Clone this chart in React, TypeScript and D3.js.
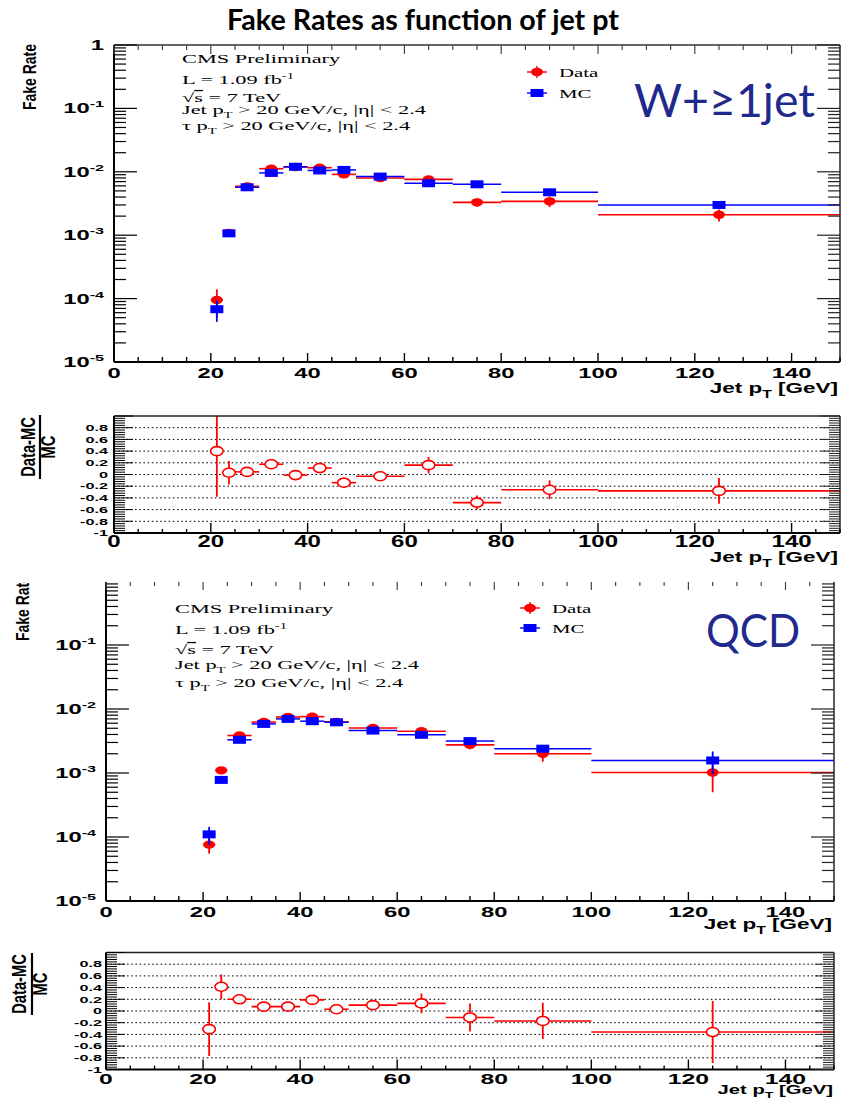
import React from 'react';
import * as d3 from 'd3';

// ---------------- data ----------------
const binLow = [20, 22.5, 25, 30, 35, 40, 45, 50, 60, 70, 80, 100];
const binHigh = [22.5, 25, 30, 35, 40, 45, 50, 60, 70, 80, 100, 150];
const ptCenter = [21.25, 23.75, 27.5, 32.5, 37.5, 42.5, 47.5, 55, 65, 75, 90, 125];

// W + >=1 jet
const wjetData = [9.5e-5, 1.09e-3, 5.9e-3, 1.12e-2, 1.19e-2, 1.16e-2, 9.1e-3, 8.0e-3, 7.6e-3, 3.3e-3, 3.42e-3, 2.1e-3];
const wjetDataErr = [4.5e-5, 1.2e-4, 2.5e-4, 4e-4, 4e-4, 4e-4, 4e-4, 3e-4, 8e-4, 5e-4, 6.5e-4, 4.5e-4];
const wjetMC = [6.8e-5, 1.07e-3, 5.7e-3, 9.6e-3, 1.2e-2, 1.05e-2, 1.07e-2, 8.4e-3, 6.6e-3, 6.35e-3, 4.75e-3, 3.0e-3];
const wjetMCErr = [2.5e-5, 6e-5, 1.5e-4, 2e-4, 2e-4, 2e-4, 2e-4, 1.5e-4, 1.5e-4, 1.5e-4, 1e-4, 1e-4];
const wjetRatio = [0.40, 0.03, 0.045, 0.175, -0.01, 0.11, -0.14, -0.03, 0.16, -0.48, -0.26, -0.28];
const wjetRatioErr = [0.78, 0.2, 0.07, 0.06, 0.06, 0.09, 0.09, 0.07, 0.14, 0.12, 0.16, 0.22];

// QCD
const qcdData = [7.6e-5, 1.1e-3, 3.85e-3, 6.25e-3, 7.5e-3, 7.6e-3, 6.3e-3, 5.05e-3, 4.5e-3, 2.75e-3, 2.0e-3, 1.02e-3];
const qcdDataErr = [2.1e-5, 8e-5, 1.5e-4, 2e-4, 2e-4, 2.5e-4, 2.5e-4, 2.5e-4, 4e-4, 4e-4, 5e-4, 5.2e-4];
const qcdMC = [1.1e-4, 7.8e-4, 3.3e-3, 5.85e-3, 7.0e-3, 6.45e-3, 6.2e-3, 4.6e-3, 3.95e-3, 3.15e-3, 2.4e-3, 1.57e-3];
const qcdMCErr = [3.4e-5, 8e-5, 1.5e-4, 2e-4, 2e-4, 2e-4, 2e-4, 1.5e-4, 2e-4, 2.5e-4, 3e-4, 6e-4];
const qcdRatio = [-0.31, 0.415, 0.2, 0.075, 0.075, 0.19, 0.03, 0.1, 0.13, -0.11, -0.17, -0.36];
const qcdRatioErr = [0.46, 0.21, 0.04, 0.03, 0.03, 0.05, 0.05, 0.06, 0.17, 0.24, 0.31, 0.53];

// ticks / labels
const xTickLabels = [0, 20, 40, 60, 80, 100, 120, 140];
const logLabelExps = [0, -1, -2, -3, -4, -5];
const ratioTickLabels = [0.8, 0.6, 0.4, 0.2, 0, -0.2, -0.4, -0.6, -0.8, -1];
const ratioGrid = [0.8, 0.6, 0.4, 0.2, 0, -0.2, -0.4, -0.6, -0.8];

const chartTitle = 'Fake Rates as function of jet pt';
const infoLines = ['CMS Preliminary', 'L = 1.09 fb', '= 7 TeV', 'Jet p', 'τ p'];

// ---------------- style ----------------
const RED = '#ff0000';
const BLUE = '#0000ff';
const NAVY = '#1f2a8c';
const SANS = "'Liberation Sans', Arial, Helvetica, sans-serif";
const SERIF = "'Liberation Serif', 'Times New Roman', serif";
const SLIDE = "Lato, 'Open Sans', sans-serif";

function SText({ x, y, sx = 1, sy = 1, rotate = 0, anchor = 'start', size, family = SANS, weight = 'bold', fill = '#000', dy, children, textLength }: any) {
  return (
    <text
      transform={`translate(${x},${y}) rotate(${rotate}) scale(${sx},${sy})`}
      textAnchor={anchor}
      fontSize={size}
      fontFamily={family}
      fontWeight={weight}
      fill={fill}
      dy={dy}
      textLength={textLength}
      lengthAdjust={textLength ? 'spacingAndGlyphs' : undefined}
    >
      {children}
    </text>
  );
}

function XTitle({ x, y, size = 15, sx = 1.5 }: any) {
  return (
    <SText x={x} y={y} sx={sx} size={size} anchor="end">
      Jet p<tspan fontSize={size * 0.7} dy={size * 0.3}>T</tspan>
      <tspan dy={-size * 0.3}> [GeV]</tspan>
    </SText>
  );
}

function MainPanel({ id, left, right, top, bottom, data, dataErr, mc, mcErr, labelRight, xLabelY, showTopLabel }: any) {
  const x = d3.scaleLinear().domain([0, 150]).range([left, right]);
  const y = d3.scaleLog().domain([1e-5, 1]).range([bottom, top]);
  const yTicks = y.ticks();
  const xTicks = x.ticks(30);
  const isMajor = (v: number) => Math.abs(Math.log10(v) - Math.round(Math.log10(v))) < 1e-6;
  const lo = (v: number, e: number) => Math.max(v - e, 1e-7);
  return (
    <g>
      <defs>
        <clipPath id={id}>
          <rect x={left} y={top} width={right - left} height={bottom - top} />
        </clipPath>
      </defs>
      <g clipPath={`url(#${id})`}>
        {ptCenter.map((c, i) => (
          <g key={'d' + i}>
            <line x1={x(binLow[i])} x2={x(binHigh[i])} y1={y(data[i])} y2={y(data[i])} stroke={RED} strokeWidth={1.6} />
            <line x1={x(c)} x2={x(c)} y1={y(data[i] + dataErr[i])} y2={y(lo(data[i], dataErr[i]))} stroke={RED} strokeWidth={1.8} />
            <ellipse cx={x(c)} cy={y(data[i])} rx={6} ry={4.2} fill={RED} />
          </g>
        ))}
        {ptCenter.map((c, i) => (
          <g key={'m' + i}>
            <line x1={x(binLow[i])} x2={x(binHigh[i])} y1={y(mc[i])} y2={y(mc[i])} stroke={BLUE} strokeWidth={1.5} />
            <line x1={x(c)} x2={x(c)} y1={y(mc[i] + mcErr[i])} y2={y(lo(mc[i], mcErr[i]))} stroke={BLUE} strokeWidth={1.8} />
            <rect x={x(c) - 6.5} y={y(mc[i]) - 4} width={13} height={8} fill={BLUE} />
          </g>
        ))}
      </g>
      {/* frame */}
      <line x1={left} x2={left} y1={top} y2={bottom} stroke="#000" strokeWidth={2} />
      <line x1={left} x2={right} y1={bottom} y2={bottom} stroke="#000" strokeWidth={2} />
      <line x1={right} x2={right} y1={top} y2={bottom} stroke="#333" strokeWidth={1.6} />
      <line x1={left} x2={right} y1={top} y2={top} stroke="#333" strokeWidth={1.6} />
      {yTicks.map((v, i) => {
        const L = isMajor(v) ? 23 : 12;
        return (
          <g key={'yt' + i}>
            <line x1={left} x2={left + L} y1={y(v)} y2={y(v)} stroke="#000" strokeWidth={1.2} />
            <line x1={right} x2={right - L} y1={y(v)} y2={y(v)} stroke="#222" strokeWidth={1.2} />
          </g>
        );
      })}
      {xTicks.map((v, i) => {
        const L = v % 20 === 0 ? 9 : 5;
        return (
          <g key={'xt' + i}>
            <line x1={x(v)} x2={x(v)} y1={bottom} y2={bottom - L} stroke="#000" strokeWidth={1.4} />
            <line x1={x(v)} x2={x(v)} y1={top} y2={top + L} stroke="#444" strokeWidth={1.2} />
          </g>
        );
      })}
      {logLabelExps.filter((e) => showTopLabel || e !== 0).map((e) => (
        <SText key={'yl' + e} x={labelRight} y={y(Math.pow(10, e)) + 5} sx={1.7} size={14} anchor="end">
          {e === 0 ? '1' : '10'}
          {e !== 0 && <tspan fontSize={9.5} dy={-6}>{String(e)}</tspan>}
        </SText>
      ))}
      {xTickLabels.map((v) => (
        <SText key={'xl' + v} x={x(v)} y={xLabelY} sx={1.7} size={14} anchor="middle">
          {String(v)}
        </SText>
      ))}
    </g>
  );
}

function RatioPanel({ id, left, right, top, bottom, ratio, ratioErr, labelRight, xLabelY, xLabelSize, xLabelSx }: any) {
  const x = d3.scaleLinear().domain([0, 150]).range([left, right]);
  const y = d3.scaleLinear().domain([-1, 1]).range([bottom, top]);
  const xTicks = x.ticks(30);
  const yMinor = d3.range(-1, 1.0001, 0.04);
  return (
    <g>
      <defs>
        <clipPath id={id}>
          <rect x={left} y={top} width={right - left} height={bottom - top} />
        </clipPath>
      </defs>
      {ratioGrid.map((v) => (
        <line key={'g' + v} x1={left} x2={right} y1={y(v)} y2={y(v)} stroke="#000" strokeWidth={1} strokeDasharray="1.6,2.6" />
      ))}
      <g clipPath={`url(#${id})`}>
        {ptCenter.map((c, i) => (
          <g key={'r' + i}>
            <line x1={x(binLow[i])} x2={x(binHigh[i])} y1={y(ratio[i])} y2={y(ratio[i])} stroke={RED} strokeWidth={1.6} />
            <line x1={x(c)} x2={x(c)} y1={y(ratio[i] + ratioErr[i])} y2={y(ratio[i] - ratioErr[i])} stroke={RED} strokeWidth={1.8} />
            <ellipse cx={x(c)} cy={y(ratio[i])} rx={6.3} ry={4.5} fill="#fff" stroke={RED} strokeWidth={1.6} />
          </g>
        ))}
      </g>
      <line x1={left} x2={left} y1={top} y2={bottom} stroke="#000" strokeWidth={2} />
      <line x1={left} x2={right} y1={bottom} y2={bottom} stroke="#000" strokeWidth={2} />
      <line x1={right} x2={right} y1={top} y2={bottom} stroke="#333" strokeWidth={1.6} />
      <line x1={left} x2={right} y1={top} y2={top} stroke="#222" strokeWidth={1.6} />
      {yMinor.map((v, i) => {
        const major = Math.abs(v * 5 - Math.round(v * 5)) < 1e-6;
        const L = major ? 19 : 11;
        return (
          <g key={'yt' + i}>
            <line x1={left} x2={left + L} y1={y(v)} y2={y(v)} stroke="#000" strokeWidth={1} />
            <line x1={right} x2={right - L} y1={y(v)} y2={y(v)} stroke="#222" strokeWidth={1} />
          </g>
        );
      })}
      {xTicks.map((v, i) => (
        <line key={'xt' + i} x1={x(v)} x2={x(v)} y1={bottom} y2={bottom - (v % 20 === 0 ? 10 : 4)} stroke="#000" strokeWidth={1.4} />
      ))}
      {ratioTickLabels.map((v) => (
        <SText key={'yl' + v} x={labelRight} y={y(v) + 3.2} sx={1.8} size={9} anchor="end">
          {String(v)}
        </SText>
      ))}
      {xTickLabels.map((v) => (
        <SText key={'xl' + v} x={x(v)} y={xLabelY} sx={xLabelSx} size={xLabelSize} anchor="middle">
          {String(v)}
        </SText>
      ))}
    </g>
  );
}

function InfoBlock({ x, ys }: any) {
  const s = 13;
  const sx = 1.72;
  return (
    <g>
      <SText x={x} y={ys[0]} sx={sx} size={s} family={SERIF} weight="normal">{infoLines[0]}</SText>
      <SText x={x} y={ys[1]} sx={sx} size={s} family={SERIF} weight="normal">
        {infoLines[1]}<tspan fontSize={8.5} dy={-5}>-1</tspan>
      </SText>
      <SText x={x} y={ys[2]} sx={sx} size={s} family={SERIF} weight="normal">
        √<tspan textDecoration="overline">s</tspan> {infoLines[2]}
      </SText>
      <SText x={x} y={ys[3]} sx={sx} size={s} family={SERIF} weight="normal">
        {infoLines[3]}<tspan fontSize={8.5} dy={4}>T</tspan><tspan dy={-4}> &gt; 20 GeV/c, |η| &lt; 2.4</tspan>
      </SText>
      <SText x={x} y={ys[4]} sx={sx} size={s} family={SERIF} weight="normal">
        {infoLines[4]}<tspan fontSize={8.5} dy={4}>T</tspan><tspan dy={-4}> &gt; 20 GeV/c, |η| &lt; 2.4</tspan>
      </SText>
    </g>
  );
}

function Legend({ x, yData, yMC }: any) {
  return (
    <g>
      <line x1={x - 10} x2={x + 10} y1={yData} y2={yData} stroke={RED} strokeWidth={1.4} />
      <line x1={x} x2={x} y1={yData - 6} y2={yData + 6} stroke={RED} strokeWidth={1.4} />
      <ellipse cx={x} cy={yData} rx={6} ry={4.2} fill={RED} />
      <SText x={x + 22} y={yData + 5} sx={1.6} size={13} family={SERIF} weight="normal">Data</SText>
      <line x1={x - 10} x2={x + 10} y1={yMC} y2={yMC} stroke={BLUE} strokeWidth={1.4} />
      <rect x={x - 6.5} y={yMC - 4} width={13} height={8} fill={BLUE} />
      <SText x={x + 22} y={yMC + 5} sx={1.6} size={13} family={SERIF} weight="normal">MC</SText>
    </g>
  );
}

function RatioYTitle({ xNum, xLine, xDen, yc, half }: any) {
  return (
    <g>
      <SText x={xNum} y={yc} rotate={-90} sx={1.05} sy={1.4} size={14} anchor="middle">Data-MC</SText>
      <line x1={xLine} x2={xLine} y1={yc - half} y2={yc + half} stroke="#000" strokeWidth={2.2} />
      <SText x={xDen} y={yc} rotate={-90} sx={1.05} sy={1.4} size={14} anchor="middle">MC</SText>
    </g>
  );
}

export default function App() {
  return (
    <svg width={845} height={1101} style={{ position: 'absolute', left: 0, top: 0, display: 'block', background: '#fff' }}>
      <rect x={0} y={0} width={845} height={1101} fill="#fff" />
      <SText x={423} y={30} size={28} family={SLIDE} weight="bold" anchor="middle" textLength={392}>{chartTitle}</SText>

      {/* ---------- W + >=1 jet ---------- */}
      <MainPanel id="c1" left={114} right={840} top={45} bottom={362} data={wjetData} dataErr={wjetDataErr}
        mc={wjetMC} mcErr={wjetMCErr} labelRight={104} xLabelY={378} showTopLabel={true} />
      <SText x={36} y={44} rotate={-90} sx={1.0} sy={1.3} size={14} anchor="end">Fake Rate</SText>
      <XTitle x={838} y={393} />
      <InfoBlock x={182} ys={[63, 84, 102, 114, 130]} />
      <Legend x={537} yData={72} yMC={93} />
      <SText x={634} y={117} size={46} family={SLIDE} weight="normal" fill={NAVY} textLength={181}>W+≥1jet</SText>

      <RatioPanel id="c2" left={114} right={840} top={416} bottom={533} ratio={wjetRatio} ratioErr={wjetRatioErr}
        labelRight={108} xLabelY={547} xLabelSize={16} xLabelSx={1.5} />
      <RatioYTitle xNum={35} xLine={40} xDen={55} yc={447} half={32} />
      <XTitle x={838} y={562} />

      {/* ---------- QCD ---------- */}
      <defs>
        <clipPath id="bottomCanvas">
          <rect x={0} y={582} width={845} height={520} />
        </clipPath>
      </defs>
      <g clipPath="url(#bottomCanvas)">
        <MainPanel id="c3" left={106} right={834} top={581} bottom={901} data={qcdData} dataErr={qcdDataErr}
          mc={qcdMC} mcErr={qcdMCErr} labelRight={96} xLabelY={917} showTopLabel={false} />
        <SText x={29} y={575} rotate={-90} sx={1.0} sy={1.3} size={14} anchor="end">Fake Rate</SText>
      </g>
      <XTitle x={832} y={929} />
      <InfoBlock x={175} ys={[613, 634, 654, 669, 687]} />
      <Legend x={530} yData={608} yMC={628} />
      <SText x={706} y={647} size={46} family={SLIDE} weight="normal" fill={NAVY} textLength={94}>QCD</SText>

      <RatioPanel id="c4" left={106} right={834} top={952.5} bottom={1069.5} ratio={qcdRatio} ratioErr={qcdRatioErr}
        labelRight={102} xLabelY={1084} xLabelSize={15} xLabelSx={1.65} />
      <RatioYTitle xNum={26} xLine={32} xDen={47} yc={984} half={31} />
      <XTitle x={833} y={1094} size={13.5} />
    </svg>
  );
}
